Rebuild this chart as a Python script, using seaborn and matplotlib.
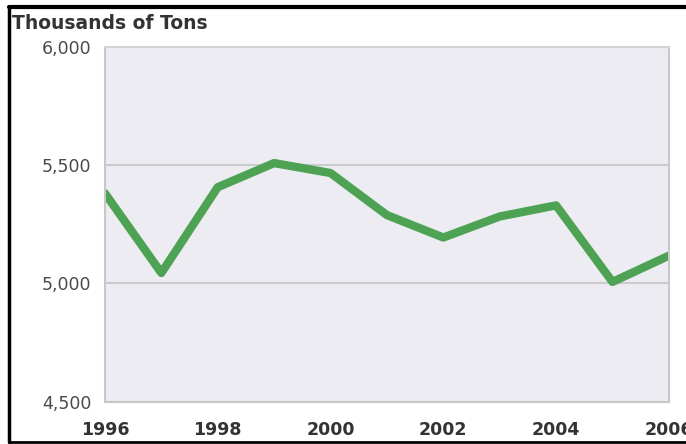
import matplotlib
matplotlib.use("Agg")
import matplotlib.pyplot as plt
from matplotlib.lines import Line2D
from matplotlib.ticker import FuncFormatter
import seaborn as sns
import pandas as pd

years = [1996, 1997, 1998, 1999, 2000, 2001, 2002, 2003, 2004, 2005, 2006]
tons = [5381, 5044, 5407, 5509, 5467, 5289, 5194, 5283, 5330, 5006, 5117]
year_labels = [1996, 1998, 2000, 2002, 2004, 2006]
y_ticks = [4500, 5000, 5500, 6000]

df = pd.DataFrame({"year": years, "tons": tons})

sns.set_style("darkgrid", {"axes.facecolor": "#EDECF2", "grid.color": "#CBCBCF"})
plt.rcParams["font.family"] = ["DejaVu Sans"]

fig = plt.figure(figsize=(6.86, 4.44), dpi=100)
ax = fig.add_axes([0.153, 0.0957, 0.822, 0.7983])

sns.lineplot(data=df, x="year", y="tons", ax=ax, color="#4DA353", linewidth=6)

ax.set_xlim(1996, 2006)
ax.set_ylim(4500, 6000)
ax.set_yticks(y_ticks)
ax.yaxis.set_major_formatter(FuncFormatter(lambda v, p: f"{int(v):,}"))
ax.set_xticks(years)
ax.set_xticklabels([str(y) if y in year_labels else "" for y in years])
ax.grid(axis="x", visible=False)
ax.grid(axis="y", linewidth=1.5)
ax.set_xlabel("")
ax.set_ylabel("")

ax.tick_params(axis="x", which="both", length=10, width=1.5, color="#C8C8C8",
               direction="out", pad=4, labelsize=12.5, labelcolor="#333333")
ax.tick_params(axis="y", length=0, pad=10, labelsize=12.5, labelcolor="#4a4a4a")
for lab in ax.get_xticklabels():
    lab.set_fontweight("bold")

for side in ["left", "bottom", "right", "top"]:
    ax.spines[side].set_visible(True)
    ax.spines[side].set_color("#C8C8C8")
    ax.spines[side].set_linewidth(1.5)
ax.spines["top"].set_color("#D4D4D8")

fig.text(0.018, 0.947, "Thousands of Tons", fontsize=13.5, fontweight="bold",
         color="#333333", va="center", ha="left")

# black frame on top, left and bottom
fig.add_artist(Line2D([0.013, 1.0], [0.984, 0.984], transform=fig.transFigure,
                      color="black", linewidth=3))
fig.add_artist(Line2D([0.013, 0.013], [0.004, 0.984], transform=fig.transFigure,
                      color="black", linewidth=2.5))
fig.add_artist(Line2D([0.013, 1.0], [0.004, 0.004], transform=fig.transFigure,
                      color="black", linewidth=2))

fig.savefig("out.png", dpi=100)
